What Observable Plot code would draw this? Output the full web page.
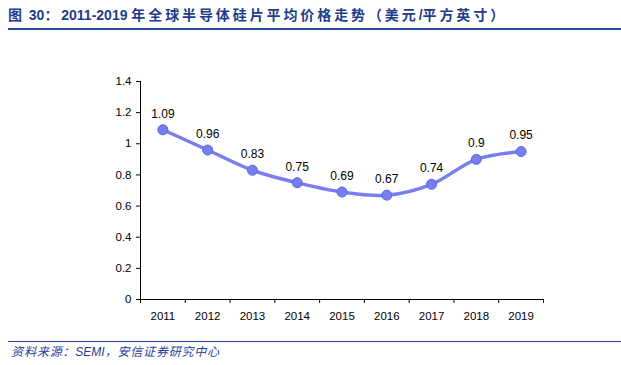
<!DOCTYPE html>
<html><head><meta charset="utf-8">
<script src="https://cdn.jsdelivr.net/npm/d3@7"></script>
<script src="https://cdn.jsdelivr.net/npm/@observablehq/plot@0.6"></script>
<style>
body{margin:0;background:#fff;font-family:"Liberation Sans",Arial,sans-serif;}
#title{height:28px;border-bottom:2px solid #2B4C9C;margin-left:8px;font-family:"Liberation Sans","Noto Sans CJK SC",sans-serif;font-weight:bold;font-size:14px;color:#1F3C8A;line-height:30px;white-space:nowrap;}
#title .zh{letter-spacing:2.9px;font-weight:bold;}
#cap{margin-left:8px;margin-top:3px;border-top:1.5px solid #2B4C9C;font-family:"Liberation Sans","Noto Sans CJK SC",sans-serif;font-style:italic;font-size:12px;color:#1F3C98;padding-top:1px;line-height:18px;white-space:nowrap;}
#cap .zh{letter-spacing:0.8px;}
</style></head><body>
<div id="title"><span class="zh">图</span> 30<span class="zh">：</span>2011-2019 <span class="zh">年全球半导体硅片平均价格走势（美元</span>/<span class="zh">平方英寸）</span></div>
<div id="chart"></div>
<div id="cap">&nbsp;<span class="zh">资料来源：</span>SEMI<span class="zh">，安信证券研究中心</span></div>
<script>
const years = [2011, 2012, 2013, 2014, 2015, 2016, 2017, 2018, 2019];
const prices = [1.09, 0.96, 0.83, 0.75, 0.69, 0.67, 0.74, 0.90, 0.95];
const yTicks = [0, 0.2, 0.4, 0.6, 0.8, 1, 1.2, 1.4];
const priceLabels = ["1.09", "0.96", "0.83", "0.75", "0.69", "0.67", "0.74", "0.9", "0.95"];

const data = years.map((y, i) => ({year: y, price: prices[i], label: priceLabels[i]}));
const bounds = [years[0] - 0.5, ...years.map(y => y + 0.5)];

const chart = Plot.plot({
  width: 621, height: 308,
  marginLeft: 140, marginRight: 78, marginTop: 51, marginBottom: 39,
  style: {fontFamily: "'Liberation Sans', Arial, sans-serif", fontSize: "11px", color: "#000"},
  x: {type: "linear", domain: [bounds[0], bounds[bounds.length - 1]]},
  y: {domain: [0, 1.4]},
  marks: [
    Plot.axisY({ticks: yTicks, tickSize: 4, tickPadding: 5, tickFormat: d => String(+d.toFixed(1)), label: null, fontSize: 11.5, stroke: "#000"}),
    Plot.axisX({ticks: bounds, tickSize: 4, tickFormat: () => "", label: null, stroke: "#000"}),
    Plot.axisX({ticks: years, tickSize: 0, tickPadding: 12, tickFormat: d => String(d), label: null, fontSize: 11.5}),
    Plot.ruleX([bounds[0]], {y1: 0, y2: 1.4, stroke: "#000", strokeWidth: 1}),
    Plot.ruleY([0], {stroke: "#000", strokeWidth: 1}),
    Plot.line(data, {x: "year", y: "price", curve: "catmull-rom", stroke: "#7A7DF0", strokeWidth: 3.5}),
    Plot.dot(data, {x: "year", y: "price", r: 5, fill: "#7A7DF0", stroke: "#4E6ED8", strokeWidth: 1}),
    Plot.text(data, {x: "year", y: "price", text: "label", dy: -16, fontSize: 12, fill: "#000"})
  ]
});
document.getElementById("chart").appendChild(chart);
</script>
</body></html>
